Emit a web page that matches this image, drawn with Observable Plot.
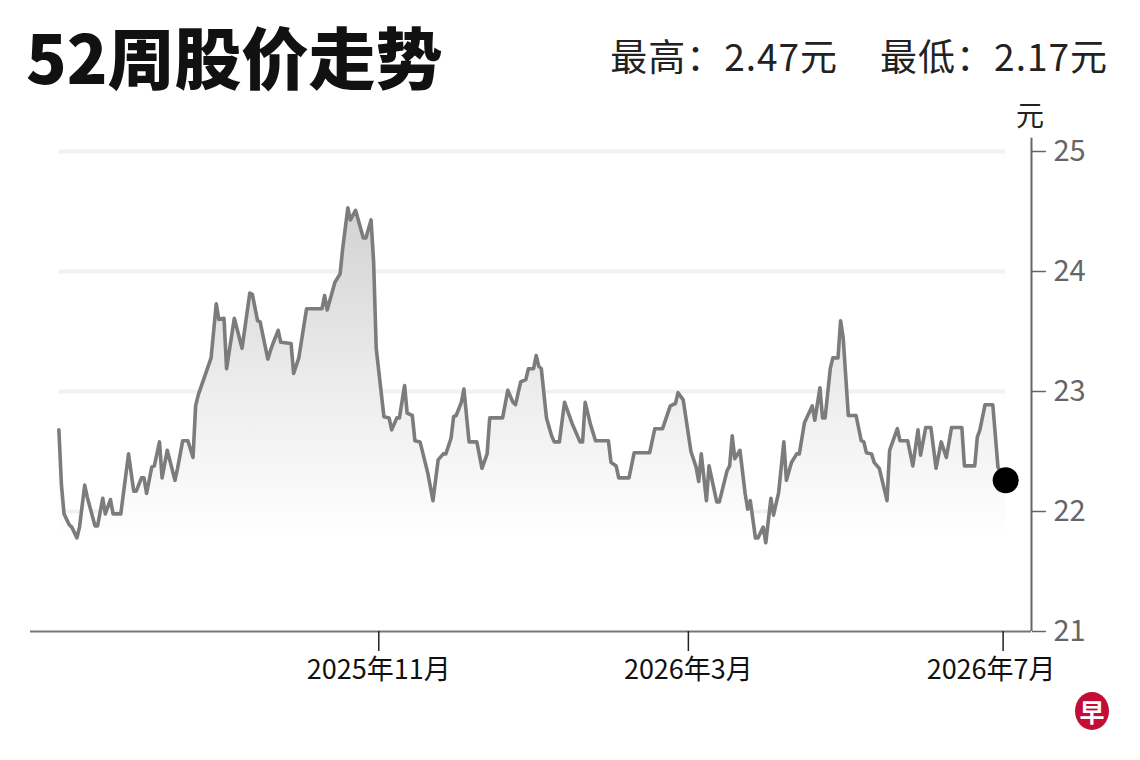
<!DOCTYPE html>
<html>
<head>
<meta charset="utf-8">
<script src="https://cdn.jsdelivr.net/npm/d3@7"></script>
<script src="https://cdn.jsdelivr.net/npm/@observablehq/plot@0.6"></script>
<style>
  html, body { margin: 0; padding: 0; background: #fff; }
  #wrap { position: relative; width: 1140px; height: 760px; overflow: hidden;
          font-family: "Noto Sans CJK SC", "Noto Sans", sans-serif; }
  #title { position: absolute; left: 26px; top: 21px; font-size: 67px; font-weight: 900;
           color: #111; line-height: 1; white-space: nowrap; }
  #stats { position: absolute; right: 32px; top: 37px; font-size: 37px; color: #222;
           line-height: 1; white-space: nowrap; letter-spacing: 1px; }
  #stats span + span { margin-left: 42px; }
  #unit { position: absolute; left: 1016px; top: 100px; font-size: 28px; color: #222; line-height: 1; }
  #chart { position: absolute; left: 0; top: 100px; }
  #logo { position: absolute; left: 1075px; top: 692px; width: 34px; height: 38px; border-radius: 50%;
          background: #c40d35; color: #fff; font-size: 25px; font-weight: 700; line-height: 38px;
          text-align: center; }
</style>
</head>
<body>
<div id="wrap">
  <div id="title">52周股价走势</div>
  <div id="stats"><span>最高：2.47元</span><span>最低：2.17元</span></div>
  <div id="unit">元</div>
  <div id="chart"></div>
  <div id="logo">早</div>
</div>
<script>
// ---- data ----
const dates = [
  "2025-06-30","2025-07-01","2025-07-02","2025-07-04","2025-07-05","2025-07-07","2025-07-08","2025-07-10","2025-07-11","2025-07-14","2025-07-15","2025-07-17","2025-07-18","2025-07-20","2025-07-21","2025-07-24","2025-07-27","2025-07-29","2025-07-30",
  "2025-08-01","2025-08-02","2025-08-03","2025-08-05","2025-08-06","2025-08-08","2025-08-09","2025-08-11","2025-08-14","2025-08-15","2025-08-17","2025-08-19","2025-08-21","2025-08-22","2025-08-23","2025-08-28","2025-08-30","2025-08-31",
  "2025-09-02","2025-09-03","2025-09-06","2025-09-09","2025-09-12","2025-09-13","2025-09-15","2025-09-16","2025-09-19","2025-09-20","2025-09-21","2025-09-23","2025-09-24","2025-09-28","2025-09-29",
  "2025-10-01","2025-10-04","2025-10-10","2025-10-11","2025-10-12","2025-10-15","2025-10-17","2025-10-18","2025-10-20","2025-10-21","2025-10-23","2025-10-26","2025-10-27","2025-10-29","2025-10-30","2025-10-31",
  "2025-11-03","2025-11-05","2025-11-06","2025-11-08","2025-11-09","2025-11-11","2025-11-12","2025-11-14","2025-11-15","2025-11-17","2025-11-20","2025-11-22","2025-11-24","2025-11-26","2025-11-27","2025-11-29","2025-11-30",
  "2025-12-01","2025-12-03","2025-12-04","2025-12-06","2025-12-09","2025-12-11","2025-12-13","2025-12-14","2025-12-19","2025-12-21","2025-12-23","2025-12-24","2025-12-26","2025-12-28","2025-12-29","2025-12-31",
  "2026-01-01","2026-01-02","2026-01-03","2026-01-05","2026-01-07","2026-01-08","2026-01-10","2026-01-12","2026-01-15","2026-01-18","2026-01-19","2026-01-20","2026-01-22","2026-01-24","2026-01-29","2026-01-30",
  "2026-02-01","2026-02-02","2026-02-06","2026-02-08","2026-02-14","2026-02-16","2026-02-19","2026-02-22","2026-02-24","2026-02-25","2026-02-27",
  "2026-03-02","2026-03-04","2026-03-05","2026-03-06","2026-03-08","2026-03-09","2026-03-12","2026-03-13","2026-03-16","2026-03-17","2026-03-18","2026-03-19","2026-03-21","2026-03-23","2026-03-24","2026-03-25","2026-03-27","2026-03-28","2026-03-30","2026-03-31",
  "2026-04-02","2026-04-03","2026-04-05","2026-04-07","2026-04-08","2026-04-10","2026-04-12","2026-04-13","2026-04-15","2026-04-18","2026-04-19","2026-04-21","2026-04-22","2026-04-23","2026-04-25","2026-04-26","2026-04-28","2026-04-29","2026-04-30",
  "2026-05-02","2026-05-05","2026-05-07","2026-05-08","2026-05-09","2026-05-11","2026-05-12","2026-05-14","2026-05-17","2026-05-18","2026-05-21","2026-05-22","2026-05-25","2026-05-27","2026-05-29","2026-05-30",
  "2026-06-01","2026-06-03","2026-06-05","2026-06-07","2026-06-09","2026-06-11","2026-06-15","2026-06-16","2026-06-20","2026-06-21","2026-06-22","2026-06-24","2026-06-27","2026-06-29",
  "2026-07-02"
];
const prices = [
  22.68,22.22,21.98,21.89,21.87,21.78,21.87,22.22,22.12,21.88,21.88,22.11,21.98,22.10,21.98,21.98,22.48,22.17,22.17,
  22.28,22.28,22.15,22.37,22.38,22.58,22.28,22.51,22.26,22.36,22.59,22.59,22.45,22.88,22.97,23.28,23.73,23.60,
  23.61,23.19,23.61,23.36,23.82,23.81,23.59,23.58,23.27,23.34,23.40,23.51,23.41,23.40,23.15,
  23.28,23.69,23.69,23.80,23.68,23.91,23.98,24.19,24.53,24.43,24.51,24.28,24.28,24.43,24.08,23.36,
  22.79,22.78,22.68,22.78,22.78,23.05,22.82,22.80,22.59,22.58,22.32,22.09,22.43,22.48,22.48,22.61,22.79,
  22.80,22.91,23.02,22.58,22.58,22.36,22.48,22.78,22.78,23.01,22.91,22.89,23.08,23.10,23.19,23.19,
  23.30,23.21,23.19,22.78,22.63,22.58,22.58,22.91,22.73,22.58,22.58,22.91,22.73,22.59,22.59,22.41,
  22.38,22.28,22.28,22.49,22.49,22.69,22.69,22.88,22.90,22.99,22.93,
  22.50,22.37,22.25,22.48,22.09,22.38,22.08,22.08,22.34,22.38,22.63,22.44,22.51,22.15,22.02,22.09,21.78,21.78,21.87,21.74,
  22.11,21.97,22.16,22.58,22.26,22.41,22.48,22.48,22.74,22.88,22.76,23.03,22.78,22.78,23.19,23.28,23.28,23.59,23.45,
  22.80,22.80,22.59,22.58,22.49,22.48,22.41,22.36,22.09,22.51,22.69,22.59,22.59,22.38,22.68,22.47,
  22.70,22.70,22.36,22.58,22.45,22.70,22.70,22.38,22.38,22.62,22.68,22.89,22.89,22.37,
  22.26
];
const yTicks = [21, 22, 23, 24, 25];
const gridValues = [22, 23, 24, 25];
const xTickDates = ["2025-11-01", "2026-03-01", "2026-07-01"];
const xDomainDates = ["2025-06-19", "2026-07-12"];
const yDomain = [21, 25];
const yAxisTop = 25.11;

// ---- build ----
const utc = s => new Date(s + "T00:00:00Z");
const data = dates.map((d, i) => ({date: utc(d), price: prices[i]}));
const firstDate = data[0].date;
const lastDate = data[data.length - 1].date;
const xTicks = xTickDates.map(utc);
const xDomain = xDomainDates.map(utc);
const fmt = d => `${d.getUTCFullYear()}年${d.getUTCMonth() + 1}月`;

const gradient = () => {
  const defs = d3.create("svg:defs");
  const g = defs.append("linearGradient").attr("id", "areaGrad")
    .attr("x1", 0).attr("y1", 0).attr("x2", 0).attr("y2", 1);
  g.append("stop").attr("offset", "0%").attr("stop-color", "#d2d2d2");
  g.append("stop").attr("offset", "40%").attr("stop-color", "#ebebeb");
  g.append("stop").attr("offset", "78%").attr("stop-color", "#ffffff");
  g.append("stop").attr("offset", "100%").attr("stop-color", "#ffffff");
  return defs.node();
};

const chart = Plot.plot({
  width: 1140,
  height: 620,
  marginLeft: 30,
  marginRight: 109,
  marginTop: 51,
  marginBottom: 89,
  x: {type: "utc", domain: xDomain},
  y: {domain: yDomain},
  style: {fontFamily: "'Noto Sans CJK SC', 'Noto Sans', sans-serif", background: "transparent", overflow: "visible"},
  marks: [
    gradient,
    Plot.ruleY(gridValues, {x1: () => firstDate, x2: () => lastDate, stroke: "#f1f1f1", strokeWidth: 4}),
    Plot.areaY(data, {x: "date", y1: yDomain[0], y2: "price", fill: "url(#areaGrad)"}),
    Plot.lineY(data, {x: "date", y: "price", stroke: "#7c7c7c", strokeWidth: 3.6, strokeLinejoin: "round"}),
    Plot.ruleY([yDomain[0]], {stroke: "#777", strokeWidth: 2}),
    Plot.ruleX([xDomain[1]], {y1: yDomain[0], y2: yAxisTop, stroke: "#666", strokeWidth: 2}),
    Plot.axisY({anchor: "right", ticks: yTicks, tickFormat: "d", tickSize: 14, tickPadding: 8, color: "#666",
                fontSize: 29, label: null, strokeWidth: 1.5}),
    Plot.axisX({ticks: xTicks, tickSize: 20, tickFormat: () => "", color: "#222", strokeWidth: 1.5, label: null}),
    Plot.axisX({ticks: xTicks.slice(0, 2), tickSize: 0, tickPadding: 28, tickFormat: fmt, color: "#111",
                fontSize: 27, label: null}),
    Plot.axisX({ticks: xTicks.slice(2), tickSize: 0, tickPadding: 28, tickFormat: fmt, color: "#111",
                fontSize: 27, label: null, dx: -12}),
    Plot.dot([data[data.length - 1]], {x: "date", y: "price", r: 13, fill: "#000", stroke: "none"})
  ]
});
document.getElementById("chart").appendChild(chart);
</script>
</body>
</html>
